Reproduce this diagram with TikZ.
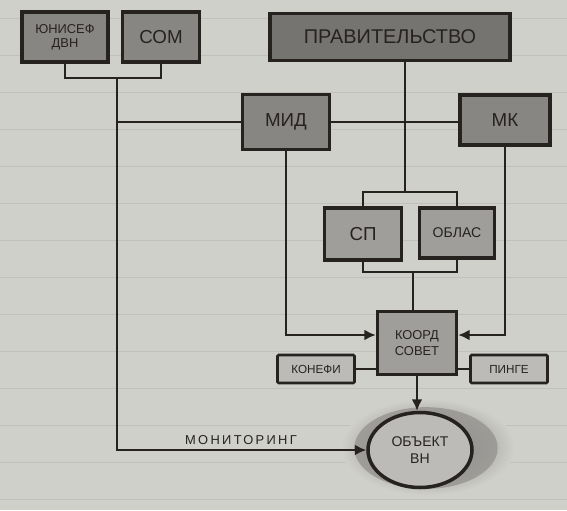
\documentclass[tikz,border=0pt]{standalone}
\usepackage{fontspec}
\setmainfont{Liberation Sans}
\usepackage{tikz}
\usetikzlibrary{arrows.meta,positioning,calc,shapes.geometric}
\definecolor{SketchPaper}{RGB}{208,208,203}
\definecolor{SketchRule}{RGB}{192,192,188}
\definecolor{SketchInk}{RGB}{38,34,32}
\definecolor{SketchDark}{RGB}{118,116,112}
\definecolor{SketchMid}{RGB}{136,134,130}
\definecolor{SketchLight}{RGB}{160,158,154}
\definecolor{SketchPale}{RGB}{188,187,183}
\definecolor{SketchHalo}{RGB}{150,148,144}

\begin{document}
\begin{tikzpicture}[x=0.03cm,y=-0.03cm,
    box/.style={draw=SketchInk, line width=3pt, fill=SketchMid, text=SketchInk, inner sep=1pt, align=center},
    smallbox/.style={draw=SketchInk, line width=2.2pt, fill=SketchPale, text=SketchInk, minimum width=2.31cm, minimum height=0.84cm, rounded corners=1pt, font=\fontsize{10}{11}\selectfont},
    link/.style={draw=SketchInk, line width=1.5pt},
    arrowlink/.style={link, -{Latex[length=3.4mm,width=3.2mm]}}
  ]
    \useasboundingbox (0,0) rectangle (567,510);
    \fill[SketchPaper] (0,0) rectangle (567,510);
    \foreach \y in {18,55,...,510} {\draw[SketchRule, line width=0.6pt] (0,\y) -- (567,\y);}
    \node[box, minimum width=2.58cm, minimum height=1.5cm, font=\fontsize{11}{12}\selectfont] (unicef) at (65,37) {ЮНИСЕФ\\ДВН};
    \node[box, minimum width=2.31cm, minimum height=1.5cm, font=\fontsize{16}{18}\selectfont] (som) at (161,37) {СОМ};
    \node[box, fill=SketchDark, minimum width=7.2cm, minimum height=1.41cm, font=\fontsize{17}{18}\selectfont] (gov) at (390,37) {ПРАВИТЕЛЬСТВО};
    \node[box, minimum width=2.61cm, minimum height=1.65cm, font=\fontsize{16}{18}\selectfont] (mid) at (286,122) {МИД};
    \node[box, minimum width=2.7cm, minimum height=1.5cm, font=\fontsize{16}{18}\selectfont] (mk) at (505,120) {МК};
    \node[box, fill=SketchLight, minimum width=2.31cm, minimum height=1.56cm, font=\fontsize{16}{18}\selectfont] (sp) at (363,234) {СП};
    \node[box, fill=SketchLight, minimum width=2.25cm, minimum height=1.5cm, font=\fontsize{12}{14}\selectfont] (oblast) at (457,233) {ОБЛАС};
    \node[box, fill=SketchLight, minimum width=2.37cm, minimum height=1.89cm, font=\fontsize{11}{13}\selectfont] (coord) at (417,343) {КООРД\\СОВЕТ};
    \node[smallbox] (konef) at (316,369) {КОНЕФИ};
    \node[smallbox] (pinge) at (509,369) {ПИНГЕ};
    \node[ellipse, shading=radial, inner color=SketchHalo!70!SketchInk, outer color=SketchPaper, minimum width=5.2cm, minimum height=2.9cm] (haloout) at (428,447) {};
    \node[ellipse, fill=SketchHalo, opacity=0.8, minimum width=4.3cm, minimum height=2.45cm] (halo) at (426,448) {};
    \node[ellipse, draw=SketchInk, line width=3pt, fill=SketchPale, text=SketchInk, minimum width=3.12cm, minimum height=2.25cm, align=center, font=\fontsize{12}{14}\selectfont] (target) at (420,450) {ОБЪЕКТ\\ВН};
    \coordinate (topjoin) at (117,78);
    \coordinate (govsplit) at (405,192);
    \coordinate (spjoin) at (413,272);
    \draw[link] (unicef.south) -- (unicef.south |- topjoin) -- (som.south |- topjoin) -- (som.south);
    \draw[arrowlink] (topjoin) -- (topjoin |- target.west) -- (target.west);
    \draw[link] (topjoin |- mid.west) -- (mid.west);
    \draw[link] (mid.east) -- (mid.east -| mk.west);
    \draw[link] (gov.south -| govsplit) -- (govsplit);
    \draw[link] (sp.north) -- (sp.north |- govsplit) -- (oblast.north |- govsplit) -- (oblast.north);
    \draw[link] (sp.south) -- (sp.south |- spjoin) -- (oblast.south |- spjoin) -- (oblast.south);
    \draw[link] (spjoin) -- (spjoin |- coord.north);
    \draw[arrowlink] (mid.south) |- ($(coord.west)+(0,-8)$);
    \draw[arrowlink] (mk.south) |- ($(coord.east)+(0,-8)$);
    \draw[link] (konef.east) -- (konef.east -| coord.west);
    \draw[link] (pinge.west) -- (pinge.west -| coord.east);
    \draw[arrowlink] (coord.south) -- (coord.south |- target.north);
    \node[text=SketchInk, font=\fontsize{11}{12}\selectfont\addfontfeature{LetterSpace=18}] (montext) at (241,440) {МОНИТОРИНГ};
  \end{tikzpicture}
\end{document}
